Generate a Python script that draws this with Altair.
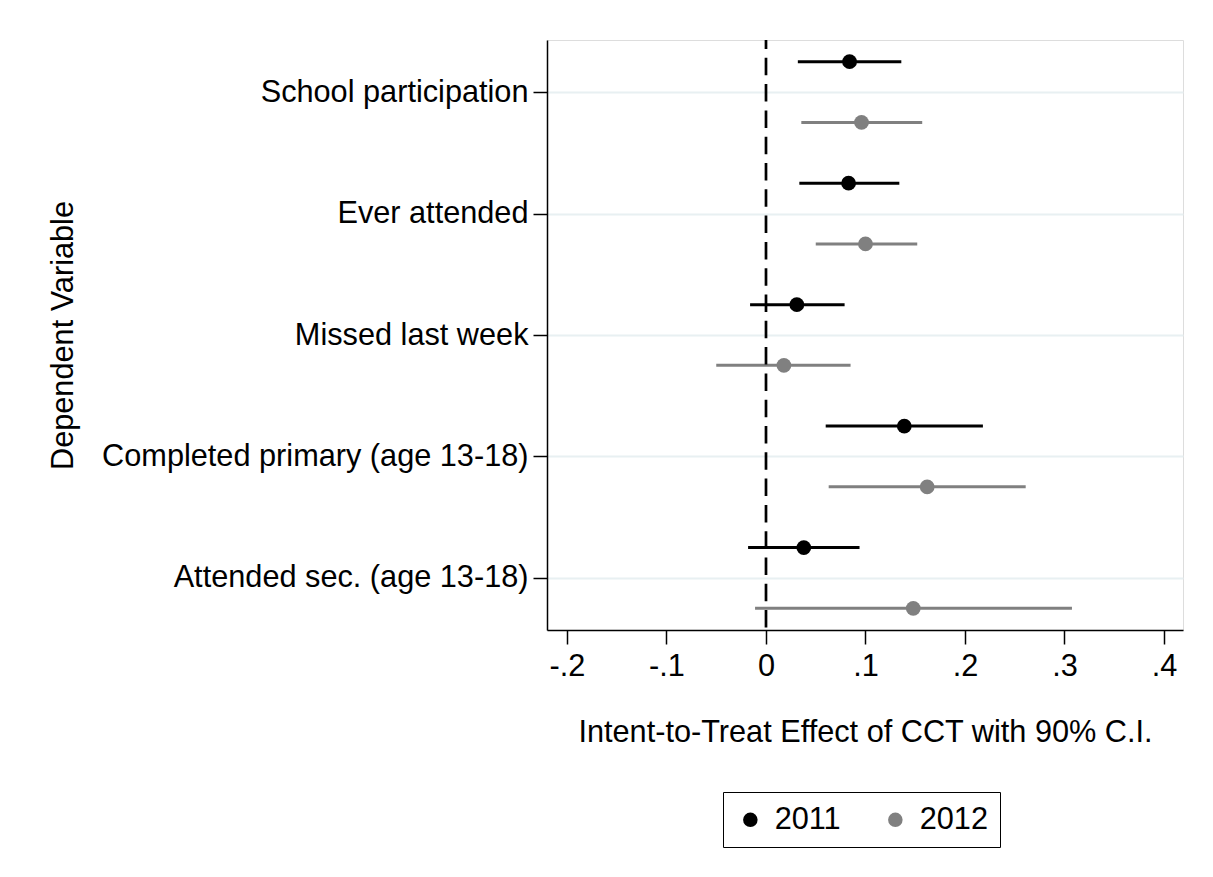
import altair as alt
import pandas as pd

categories = ["School participation", "Ever attended", "Missed last week",
              "Completed primary (age 13-18)", "Attended sec. (age 13-18)"]
years = ["2011", "2012"]
est_2011 = [0.084, 0.083, 0.031, 0.139, 0.038]
lo_2011 = [0.032, 0.0335, -0.016, 0.060, -0.018]
hi_2011 = [0.136, 0.134, 0.079, 0.218, 0.094]
est_2012 = [0.096, 0.100, 0.018, 0.162, 0.148]
lo_2012 = [0.0355, 0.050, -0.050, 0.063, -0.011]
hi_2012 = [0.157, 0.152, 0.085, 0.261, 0.3075]
x_ticks = [-0.2, -0.1, 0.0, 0.1, 0.2, 0.3, 0.4]

rows = []
for i, c in enumerate(categories):
    rows.append({"cat": c, "year": "2011", "est": est_2011[i], "lo": lo_2011[i],
                 "hi": hi_2011[i], "pos": i + 1 - 0.25})
    rows.append({"cat": c, "year": "2012", "est": est_2012[i], "lo": lo_2012[i],
                 "hi": hi_2012[i], "pos": i + 1 + 0.25})
df = pd.DataFrame(rows)

FONT = "Liberation Sans"
FS = 30.7

label_arr = "[" + ",".join("'" + c + "'" for c in categories) + "]"

x_scale = alt.Scale(domain=[-0.2201, 0.4191], nice=False, zero=False)
x_axis = alt.Axis(values=x_ticks, title="Intent-to-Treat Effect of CCT with 90% C.I.",
                  labelExpr="datum.value == 0 ? '0' : (datum.value < 0 ? '-' : '') + replace(format(abs(datum.value), '.1f'), '0.', '.')",
                  grid=False, tickSize=14, tickWidth=1.5, tickColor="black",
                  domainColor="black", domainWidth=1.5, labelFontSize=FS, labelPadding=7,
                  labelColor="black", labelFont=FONT, titleFont=FONT, titleFontSize=FS,
                  titleFontWeight="normal", titleColor="black", titlePadding=37)
y_scale = alt.Scale(domain=[0.572, 5.428], reverse=True, nice=False, zero=False)
y_axis = alt.Axis(values=[1, 2, 3, 4, 5], labelExpr=label_arr + "[datum.value - 1]",
                  title="Dependent Variable", grid=True, gridColor="#e8f0f2", gridWidth=2,
                  tickSize=14, tickWidth=1.5, tickColor="black", domainColor="black",
                  domainWidth=1.5, labelFontSize=FS, labelPadding=5, labelColor="black",
                  labelFont=FONT, titleFont=FONT, titleFontSize=FS, titleFontWeight="normal",
                  titleColor="black", titleX=-484, titleY=295, titleAngle=270,
                  titleAlign="center", titleBaseline="middle", labelLimit=1000)
color_scale = alt.Scale(domain=years, range=["#000000", "#808080"])
legend = alt.Legend(title=None, orient="none", legendX=176, legendY=752,
                    direction="horizontal", strokeColor="black",
                    padding=12, symbolSize=210, symbolType="circle",
                    symbolStrokeWidth=0, symbolOpacity=1,
                    labelFontSize=FS, labelFont=FONT, labelColor="black",
                    labelOffset=9, columnPadding=39)

base = alt.Chart(df)

rules = base.mark_rule(strokeWidth=3).encode(
    x=alt.X("lo:Q", scale=x_scale, axis=x_axis),
    x2="hi:Q",
    y=alt.Y("pos:Q", scale=y_scale, axis=y_axis),
    color=alt.Color("year:N", scale=color_scale, legend=legend),
)

zero = alt.Chart(pd.DataFrame({"z": [0.0]})).mark_rule(
    color="black", strokeWidth=2.7, strokeDash=[17.5, 8.8], strokeDashOffset=8.5
).encode(x=alt.X("z:Q", scale=x_scale, axis=x_axis))

points = base.mark_circle(size=220, opacity=1).encode(
    x=alt.X("est:Q", scale=x_scale, axis=x_axis),
    y=alt.Y("pos:Q", scale=y_scale, axis=y_axis),
    color=alt.Color("year:N", scale=color_scale, legend=legend),
)

chart = alt.layer(rules, zero, points).properties(
    width=636, height=590,
    autosize=alt.AutoSizeParams(type="none"),
    padding={"left": 539, "top": 32, "right": 20, "bottom": 230},
).configure_view(stroke=None).configure(font=FONT)

chart.save("out.html", embed_options={"renderer": "svg", "actions": False})
